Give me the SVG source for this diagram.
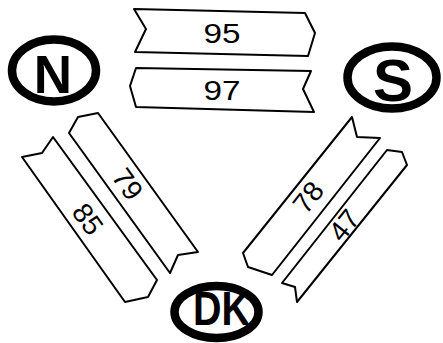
<svg xmlns="http://www.w3.org/2000/svg" width="443" height="343" viewBox="0 0 443 343">
<style>
.rib{fill:#fff;stroke:#000;stroke-width:2;stroke-linejoin:round}
.num{font-family:"Liberation Sans",Arial,sans-serif;font-size:28px;fill:#000;text-anchor:middle}
.ring{fill:#fff;stroke:#000;stroke-width:8.5}
.lbl{font-family:"Liberation Sans",Arial,sans-serif;font-weight:bold;fill:#000;text-anchor:middle}
</style>
<rect width="443" height="343" fill="#fff"/>
<g id="connectors">
<g id="link-95">
<polygon class="rib" points="134,9 305,13 315,33 308,56 135,52 146,29"/>
<text class="num" x="222" y="43" textLength="37" lengthAdjust="spacingAndGlyphs">95</text>
</g>
<g id="link-97">
<polygon class="rib" points="136,68 311,71 303,89 314,112 136,107 130,86"/>
<text class="num" x="222" y="100" textLength="37" lengthAdjust="spacingAndGlyphs">97</text>
</g>
<g id="link-79">
<polygon class="rib" points="69,133 78,117 98,113 198,252 178,255 170,273"/>
<text class="num" transform="translate(128,184) rotate(54.5)" x="0" y="10" font-size="27">79</text>
</g>
<g id="link-85">
<polygon class="rib" points="22,157 42,153 53,137 157,280 148,297 125,302"/>
<text class="num" transform="translate(88,219) rotate(54)" x="0" y="10" font-size="27">85</text>
</g>
<g id="link-78">
<polygon class="rib" points="352,117 357,137 380,138 272,275 248,267 243,253"/>
<text class="num" transform="translate(308,197) rotate(-51.7)" x="0" y="10" font-size="27">78</text>
</g>
<g id="link-47">
<polygon class="rib" points="387,150 402,152 407,165 297,302 295,287 282,283"/>
<text class="num" transform="translate(344,225) rotate(-51.3)" x="0" y="10" font-size="27">47</text>
</g>
</g>
<g id="node-N">
<ellipse class="ring" cx="54" cy="70.5" rx="42" ry="31"/>
<text class="lbl" x="53" y="93" font-size="53">N</text>
</g>
<g id="node-S">
<ellipse class="ring" cx="392" cy="77.5" rx="44.5" ry="31"/>
<text class="lbl" x="393" y="101" font-size="59" textLength="40" lengthAdjust="spacingAndGlyphs">S</text>
</g>
<g id="node-DK">
<ellipse class="ring" cx="216.5" cy="312" rx="42" ry="26"/>
<text class="lbl" x="221.5" y="325" font-size="49" textLength="57" lengthAdjust="spacingAndGlyphs">DK</text>
</g>
</svg>
